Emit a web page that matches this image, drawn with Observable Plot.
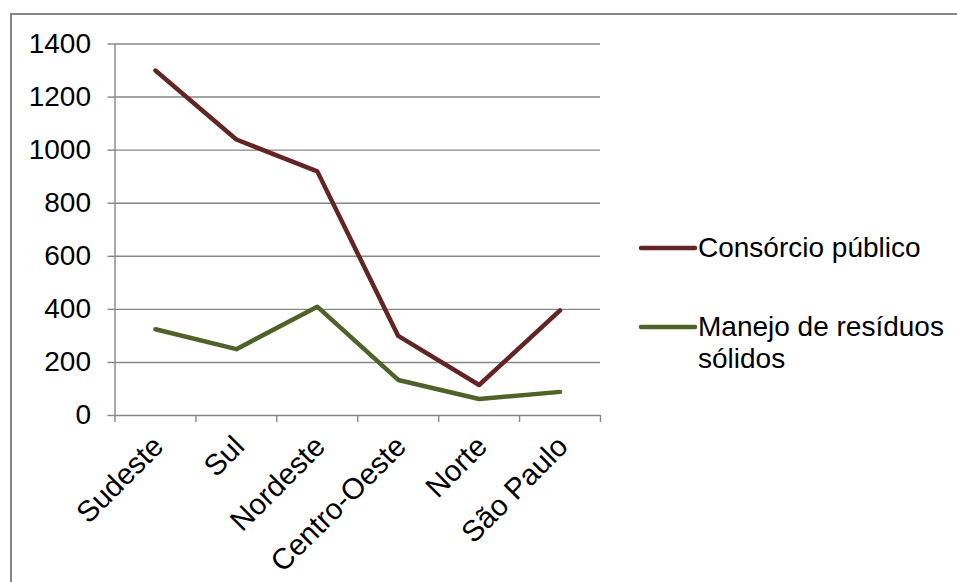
<!DOCTYPE html>
<html>
<head>
<meta charset="utf-8">
<script src="https://cdn.jsdelivr.net/npm/d3@7"></script>
<script src="https://cdn.jsdelivr.net/npm/@observablehq/plot@0.6"></script>
<style>
  html, body { margin: 0; padding: 0; background: #fff; }
  #chart { position: relative; width: 957px; height: 582px; overflow: hidden; font-family: "Liberation Sans", Arial, sans-serif; }
  #frame { position: absolute; left: 10px; top: 13px; right: -4px; bottom: -4px; border-left: 2px solid #868686; border-top: 2px solid #868686; }
  #plot { position: absolute; left: 0; top: 0; }
  .key { position: absolute; left: 638px; font-size: 28px; line-height: 32px; color: #000; display: flex; align-items: flex-start; }
  .key svg { flex: none; }
</style>
</head>
<body>
<div id="chart">
  <div id="frame"></div>
  <div id="plot"></div>
</div>
<script>
// Regions and counts per series
const categories = ["Sudeste", "Sul", "Nordeste", "Centro-Oeste", "Norte", "São Paulo"];
const consorcio = [1300, 1040, 920, 300, 115, 396];
const manejo = [325, 250, 410, 134, 62, 89];
const series = ["Consórcio público", "Manejo de resíduos sólidos"];
const seriesColors = ["#632523", "#4f6228"];
const yTicks = [0, 200, 400, 600, 800, 1000, 1200, 1400];

const rows = [];
categories.forEach((c, i) => {
  rows.push({i, categoria: c, serie: series[0], valor: consorcio[i]});
  rows.push({i, categoria: c, serie: series[1], valor: manejo[i]});
});

const axisGray = "#868686";

const chart = Plot.plot({
  width: 957,
  height: 582,
  marginLeft: 114.5,
  marginRight: 357,
  marginTop: 43.5,
  marginBottom: 167,
  style: {fontFamily: "'Liberation Sans', Arial, sans-serif", fontSize: "28px", color: "#000", background: "transparent", overflow: "visible"},
  x: {type: "linear", domain: [0, categories.length]},
  y: {domain: [0, 1400]},
  color: {domain: series, range: seriesColors},
  marks: [
    Plot.gridY(yTicks, {stroke: axisGray, strokeOpacity: 1, strokeWidth: 1.4}),
    Plot.ruleX([0], {stroke: axisGray, strokeWidth: 1.4}),
    Plot.axisY({ticks: yTicks, tickFormat: d => String(d), tickSize: 7, tickPadding: 17, stroke: axisGray, strokeOpacity: 1, strokeWidth: 1.4, label: null, fill: "#000"}),
    // category boundary ticks
    Plot.axisX({ticks: d3.range(categories.length + 1), tickSize: 7, tickFormat: () => "", stroke: axisGray, strokeOpacity: 1, strokeWidth: 1.4, label: null}),
    // category names, centred in each slot
    Plot.axisX({
      ticks: categories.map((_, i) => i + 0.5),
      tickFormat: v => categories[Math.floor(v)],
      tickSize: 0,
      tickPadding: 26,
      tickRotate: -45,
      textAnchor: "end",
      lineAnchor: "middle",
      fontSize: 29.5,
      dx: 3,
      fill: "#000",
      label: null
    }),
    Plot.line(rows, {
      x: d => d.i + 0.5,
      y: "valor",
      z: "serie",
      stroke: "serie",
      strokeWidth: 4.5,
      strokeLinecap: "round",
      strokeLinejoin: "round"
    })
  ]
});
document.getElementById("plot").appendChild(chart);

// Legend at the right of the plot area
const keyTops = [232, 311];
series.forEach((s, k) => {
  const item = document.createElement("div");
  item.className = "key";
  item.style.top = keyTops[k] + "px";
  item.innerHTML =
    `<svg width="60" height="32"><line x1="3" x2="57" y1="16" y2="16" stroke="${seriesColors[k]}" stroke-width="4.5" stroke-linecap="round"/></svg>` +
    `<span style="width:${k === 0 ? 260 : 255}px">${k === 0 ? s : "Manejo de resíduos<br>sólidos"}</span>`;
  document.getElementById("chart").appendChild(item);
});
</script>
</body>
</html>
